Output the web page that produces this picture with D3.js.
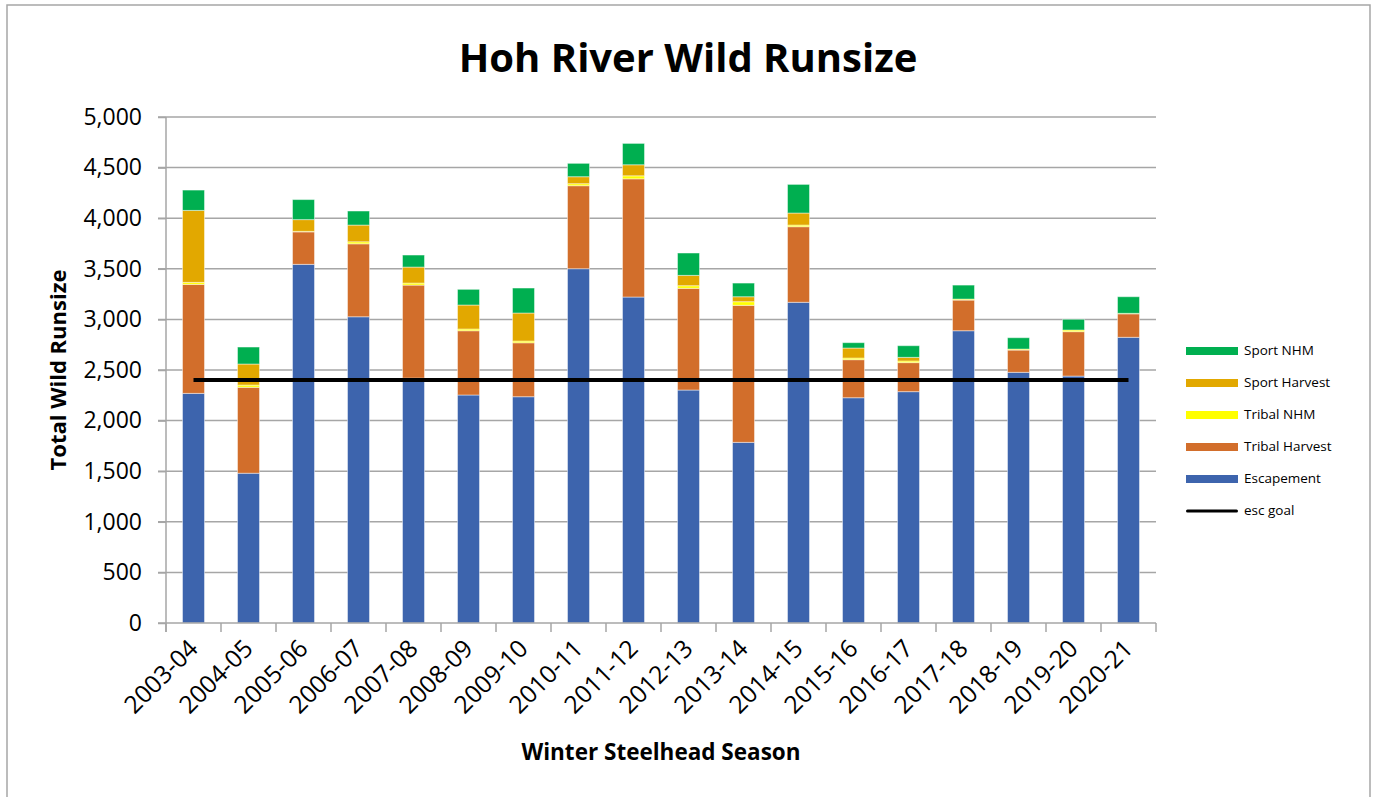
<!DOCTYPE html>
<html>
<head>
<meta charset="utf-8">
<script src="https://cdn.jsdelivr.net/npm/d3@7"></script>
<style>
  html, body { margin: 0; padding: 0; background: #fff; }
  svg { display: block; font-family: "Open Sans", "Noto Sans", sans-serif; }
</style>
</head>
<body>
<svg id="chart" width="1377" height="797"></svg>
<script>
const categories = ["2003-04","2004-05","2005-06","2006-07","2007-08","2008-09","2009-10","2010-11","2011-12","2012-13","2013-14","2014-15","2015-16","2016-17","2017-18","2018-19","2019-20","2020-21"];
const escapement    = [2269,1480,3544,3026,2420,2253,2236,3501,3221,2302,1785,3169,2226,2286,2888,2477,2440,2823];
const tribalHarvest = [1077, 849, 321, 721, 919, 635, 533, 820,1168,1005,1354, 747, 376, 287, 303, 220, 439, 232];
const tribalNHM     = [  20,  22,   5,  20,  20,  17,  17,  20,  30,  26,  36,  16,  16,  16,  10,  10,  16,   5];
const sportHarvest  = [ 711, 208, 116, 165, 158, 237, 277,  69, 109, 102,  49, 119,  99,  36,   0,   0,   0,   0];
const sportNHM      = [ 201, 168, 198, 139, 119, 155, 247, 132, 211, 221, 135, 283,  53, 115, 138, 112, 106, 164];
const escGoal       = [2400,2400,2400,2400,2400,2400,2400,2400,2400,2400,2400,2400,2400,2400,2400,2400,2400,2400];
const yTicks = [0,500,1000,1500,2000,2500,3000,3500,4000,4500,5000];
const seriesNames = ["Escapement","Tribal Harvest","Tribal NHM","Sport Harvest","Sport NHM"];
const seriesColors = ["#3d64ad","#d26e2b","#ffff00","#e2a800","#00af50"];
const legendOrder = ["Sport NHM","Sport Harvest","Tribal NHM","Tribal Harvest","Escapement"];

const svg = d3.select("#chart");
const plot = {left: 166, right: 1156, top: 117, bottom: 623};

// outer border
svg.append("rect").attr("x", 7).attr("y", 5).attr("width", 1363).attr("height", 800)
  .attr("fill", "#fff").attr("stroke", "#a6a6a6").attr("stroke-width", 1.5);

const x = d3.scaleBand().domain(categories).range([plot.left, plot.right]).paddingInner(0.6).paddingOuter(0.3);
const xb = d3.scaleBand().domain(categories).range([plot.left, plot.right]);
const y = d3.scaleLinear().domain([0, 5000]).range([plot.bottom, plot.top]);

// gridlines
svg.append("g").selectAll("line").data(yTicks.filter(d => d > 0)).join("line")
  .attr("x1", plot.left - 8).attr("x2", plot.right)
  .attr("y1", d => y(d)).attr("y2", d => y(d))
  .attr("stroke", "#a6a6a6").attr("stroke-width", 1.5);

// y axis
const yAxis = svg.append("g").attr("transform", `translate(${plot.left},0)`)
  .call(d3.axisLeft(y).tickValues(yTicks).tickFormat(d3.format(",")).tickSize(8).tickPadding(16));
yAxis.select(".domain").attr("stroke", "#a6a6a6").attr("stroke-width", 1.5).attr("d", `M0,${plot.top}V${plot.bottom + 9}`);
yAxis.selectAll(".tick line").attr("stroke", "#a6a6a6").attr("stroke-width", 1.5);
yAxis.selectAll(".tick text").attr("font-size", 23).attr("fill", "#000")
  .attr("font-family", "'Open Sans', sans-serif");

// stacked data
const rows = categories.map((c, i) => ({
  cat: c,
  "Escapement": escapement[i],
  "Tribal Harvest": tribalHarvest[i],
  "Tribal NHM": tribalNHM[i],
  "Sport Harvest": sportHarvest[i],
  "Sport NHM": sportNHM[i]
}));
const stack = d3.stack().keys(seriesNames)(rows);
const color = d3.scaleOrdinal().domain(seriesNames).range(seriesColors);

svg.append("g").selectAll("g").data(stack).join("g")
  .attr("fill", d => color(d.key))
  .selectAll("rect").data(d => d.filter(p => p[1] - p[0] > 0)).join("rect")
  .attr("x", d => x(d.data.cat))
  .attr("width", x.bandwidth())
  .attr("y", d => y(d[1]))
  .attr("height", d => y(d[0]) - y(d[1]))
  .attr("stroke", "rgba(255,255,255,0.45)").attr("stroke-width", 1);

// x axis
const xAxis = svg.append("g").attr("transform", `translate(0,${plot.bottom})`)
  .call(d3.axisBottom(xb).tickSize(0).tickFormat(d => d));
xAxis.select(".domain").attr("stroke", "#a6a6a6").attr("stroke-width", 1.5)
  .attr("d", `M${plot.left - 8},0H${plot.right}`);
// tick marks at band boundaries
svg.append("g").selectAll("line").data(categories.concat(["end"])).join("line")
  .attr("x1", (d, i) => plot.left + i * xb.step()).attr("x2", (d, i) => plot.left + i * xb.step())
  .attr("y1", plot.bottom).attr("y2", plot.bottom + 9)
  .attr("stroke", "#a6a6a6").attr("stroke-width", 1.5);
xAxis.selectAll(".tick text")
  .attr("font-size", 24.5).attr("fill", "#000")
  .attr("font-family", "'Open Sans', sans-serif")
  .attr("text-anchor", "end")
  .attr("dy", 0).attr("y", 0)
  .attr("transform", "translate(6,27) rotate(-45)");

// esc goal line
const line = d3.line().x((d, i) => x(categories[i]) + x.bandwidth() / 2).y(d => y(d));
svg.append("path").datum(escGoal).attr("d", line)
  .attr("fill", "none").attr("stroke", "#000").attr("stroke-width", 4);

// title
svg.append("text").attr("x", 688).attr("y", 72).attr("text-anchor", "middle")
  .attr("font-size", 40).attr("font-weight", "bold").attr("fill", "#000")
  .text("Hoh River Wild Runsize");

// axis titles
svg.append("text").attr("transform", `translate(66,${(plot.top + plot.bottom) / 2}) rotate(-90)`)
  .attr("text-anchor", "middle").attr("font-size", 22).attr("font-weight", "bold")
  .text("Total Wild Runsize");
svg.append("text").attr("x", (plot.left + plot.right) / 2).attr("y", 760)
  .attr("text-anchor", "middle").attr("font-size", 22.5).attr("font-weight", "bold")
  .text("Winter Steelhead Season");

// legend
const legend = svg.append("g");
const legItems = legendOrder.map(n => ({name: n, color: color(n), type: "bar"}))
  .concat([{name: "esc goal", color: "#000", type: "line"}]);
const lg = legend.selectAll("g").data(legItems).join("g")
  .attr("transform", (d, i) => `translate(1186,${351 + i * 32})`);
lg.append("rect").attr("x", 0).attr("width", 52)
  .attr("y", d => d.type === "bar" ? -4 : -1.5)
  .attr("height", d => d.type === "bar" ? 8 : 3)
  .attr("rx", d => d.type === "bar" ? 0 : 1.5)
  .attr("fill", d => d.color);
lg.append("text").attr("x", 58).attr("y", 0).attr("dominant-baseline", "middle")
  .attr("font-size", 13.5).attr("fill", "#000").text(d => d.name);
</script>
</body>
</html>
